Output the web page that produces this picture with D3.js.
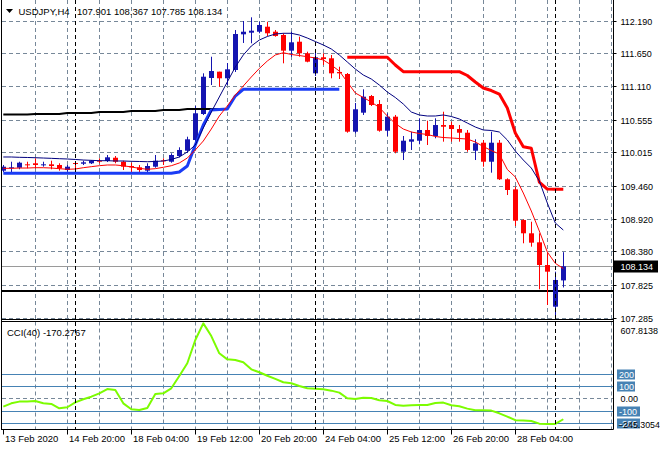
<!DOCTYPE html>
<html><head><meta charset="utf-8">
<script src="https://cdn.jsdelivr.net/npm/d3@7"></script>
<style>
html,body{margin:0;padding:0;background:#fff;}
svg{display:block;font-family:"Liberation Sans",Arial,sans-serif;}
</style></head><body>
<svg id="chart" width="660" height="450"></svg>
<script>
// ---------------- DATA ----------------
const symbolTitle = "USDJPY,H4";
const lastOHLC = ["107.901", "108.367", "107.785", "108.134"];
const opens = [109.713,109.752,109.762,109.818,109.835,109.807,109.818,109.807,109.724,109.840,
  109.828,109.835,109.878,109.873,109.927,109.861,109.790,109.769,109.713,109.779,
  109.884,109.861,109.955,110.043,110.220,110.649,111.244,111.348,111.239,111.376,
  111.965,111.992,112.008,112.091,112.008,111.954,111.695,111.843,111.652,111.321,
  111.586,111.569,111.343,111.310,110.357,110.671,110.946,110.814,110.373,110.605,
  110.026,110.192,110.208,110.385,110.286,110.467,110.467,110.401,110.340,110.043,
  110.175,109.861,110.175,109.571,109.405,108.898,108.679,108.530,108.155,107.467,
  107.901];
const highs = [109.807,109.861,109.861,109.861,109.917,109.861,109.878,109.835,109.807,109.861,
  109.878,109.889,109.917,109.972,109.955,109.878,109.845,109.807,109.835,109.972,
  109.917,110.000,110.099,110.274,110.781,111.321,111.595,111.348,111.491,112.036,
  112.185,112.246,112.173,112.173,112.036,111.982,112.008,111.926,111.678,111.706,
  111.652,111.624,111.430,111.326,110.831,111.057,110.963,110.880,110.661,110.633,
  110.286,110.357,110.578,110.538,110.578,110.687,110.522,110.467,110.385,110.231,
  110.220,110.357,110.220,109.587,109.448,108.910,108.870,108.679,108.349,108.045,
  108.367];
const lows = [109.691,109.680,109.736,109.752,109.752,109.779,109.736,109.713,109.696,109.696,
  109.807,109.823,109.835,109.856,109.835,109.724,109.658,109.680,109.670,109.762,
  109.807,109.845,109.934,110.010,110.192,110.633,111.128,111.100,111.128,111.343,
  111.822,111.817,111.982,111.937,111.926,111.486,111.595,111.595,111.503,111.277,
  111.458,111.239,111.227,110.340,110.330,110.633,110.781,110.357,110.286,110.000,
  109.889,110.055,110.149,110.137,110.248,110.192,110.192,110.192,110.026,109.889,
  109.779,109.680,109.559,109.311,108.799,108.514,108.458,107.754,107.495,107.330,
  107.785];
const closes = [109.779,109.769,109.845,109.807,109.807,109.818,109.790,109.752,109.779,109.828,
  109.851,109.878,109.868,109.934,109.861,109.779,109.769,109.724,109.790,109.878,
  109.873,109.972,110.055,110.231,110.661,111.265,111.359,111.239,111.387,111.970,
  112.008,112.025,112.119,111.982,111.937,111.695,111.833,111.652,111.513,111.586,
  111.557,111.321,111.321,110.357,110.727,110.935,110.798,110.373,110.605,110.026,
  110.208,110.231,110.385,110.286,110.467,110.439,110.401,110.340,110.055,110.165,
  109.861,110.175,109.571,109.394,108.887,108.679,108.524,108.155,108.045,107.908,
  108.134];
// navy moving average (upper)
const maNavy = [109.939,109.939,109.934,109.931,109.927,109.922,109.917,109.911,109.906,109.898,
  109.889,109.884,109.878,109.878,109.873,109.873,109.868,109.865,109.861,109.865,
  109.873,109.898,109.939,110.022,110.137,110.418,110.682,110.930,111.178,111.425,
  111.624,111.772,111.871,111.929,111.970,111.982,111.982,111.954,111.904,111.846,
  111.789,111.723,111.624,111.508,111.392,111.293,111.227,111.128,111.012,110.922,
  110.814,110.682,110.633,110.616,110.616,110.633,110.608,110.567,110.500,110.434,
  110.385,110.377,110.352,110.220,110.038,109.889,109.757,109.543,109.179,108.849,
  108.733];
// red moving average (lower)
const maRed = [109.752,109.752,109.757,109.757,109.762,109.762,109.757,109.746,109.736,109.741,
  109.762,109.779,109.795,109.807,109.807,109.795,109.774,109.752,109.736,109.746,
  109.769,109.795,109.840,109.922,110.055,110.203,110.401,110.616,110.781,110.963,
  111.112,111.260,111.401,111.524,111.624,111.661,111.632,111.615,111.595,111.574,
  111.541,111.458,111.359,111.178,110.996,110.922,110.847,110.756,110.616,110.492,
  110.401,110.352,110.327,110.311,110.278,110.261,110.253,110.244,110.236,110.187,
  110.112,110.046,109.988,109.733,109.609,109.344,109.047,108.717,108.370,108.183,
  108.097];
// thick blue stop line (bars 0..42)
const stopBlueStart = 0;
const stopBlue = [109.670,109.670,109.670,109.670,109.670,109.670,109.670,109.670,109.670,109.670,
  109.670,109.670,109.670,109.670,109.670,109.670,109.670,109.670,109.670,109.670,
  109.670,109.670,109.691,109.790,110.137,110.467,110.715,110.723,110.732,110.946,
  111.057,111.057,111.057,111.057,111.057,111.057,111.057,111.057,111.057,111.057,
  111.057,111.057,111.057];
// thick red stop line (bars 43..70)
const stopRedStart = 43;
const stopRed = [111.586,111.586,111.586,111.586,111.586,111.586,111.458,111.348,111.348,111.348,
  111.348,111.348,111.348,111.348,111.348,111.285,111.178,111.079,111.037,110.979,
  110.748,110.335,110.109,110.083,109.526,109.410,109.405,109.405];
// black slow average (bars 0..28)
const maBlackStart = 0;
const maBlack = [110.641,110.641,110.641,110.641,110.649,110.649,110.649,110.649,110.666,110.666,
  110.666,110.666,110.682,110.682,110.682,110.682,110.699,110.699,110.699,110.699,
  110.715,110.715,110.715,110.732,110.732,110.732,110.732,110.732,110.732];
const hLinePrice = 107.726;
const cci = [-68,-41,-27,-27,-22,-41,-46,-81,-73,-33,
  -8,13,40,75,67,-41,-89,-95,-79,35,
  40,81,181,284,473,607.8,505,365,316,311,
  292,235,211,183,157,130,122,100,81,78,
  73,62,46,0,-5,5,2,-16,-22,-54,
  -60,-57,-54,-54,-38,-35,-57,-65,-84,-97,
  -97,-100,-122,-149,-178,-181,-184,-206,-208,-208,
  -170.2767];
const cciTitle = "CCI(40) -170.2767";
const cciMax = 607.8138, cciMin = -245.3054;
const cciLevels = [200, 100, -100, -200];
const priceTicks = [112.190, 111.650, 111.110, 110.555, 110.015, 109.460, 108.920, 108.380, 107.825, 107.285];
const priceTickLabels = ["112.190","111.650","111.110","110.555","110.015","109.460","108.920","108.380","107.825","107.285"];
const timeTickBars = [0, 8, 16, 24, 32, 40, 48, 56, 64];
const timeTickLabels = ["13 Feb 2020","14 Feb 20:00","18 Feb 04:00","19 Feb 12:00","20 Feb 20:00","24 Feb 04:00","25 Feb 12:00","26 Feb 20:00","28 Feb 04:00"];
const separatorBars = [9, 39, 69];

// ---------------- LAYOUT ----------------
const L = 2, R = 613.5, mainTop = 0, mainBot = 319.5, cciTop = 321.5, cciBot = 429.5;
const svg = d3.select("#chart");
const x = d3.scaleLinear().domain([0, 70]).range([3.3, 563.3]);
const y = d3.scaleLinear().domain([107.285, 112.190]).range([317.7, 20.7]);
const yc = d3.scaleLinear().domain([cciMin, cciMax]).range([428.5, 323.4]);
const gridColor = "#778899";
const bullColor = "#1414b0", bearColor = "#ff0000";

svg.append("rect").attr("width", 660).attr("height", 450).attr("fill", "#fff");
const defs = svg.append("defs");
defs.append("clipPath").attr("id", "clipMain").append("rect")
  .attr("x", L).attr("y", mainTop).attr("width", R - L).attr("height", mainBot - mainTop);
defs.append("clipPath").attr("id", "clipCci").append("rect")
  .attr("x", L).attr("y", cciTop).attr("width", R - L).attr("height", cciBot - cciTop);

const gMain = svg.append("g").attr("clip-path", "url(#clipMain)");
const gCci = svg.append("g").attr("clip-path", "url(#clipCci)");

// vertical grid every 4 bars
const vGrid = d3.range(4, 77, 4);
[[gMain, mainTop, mainBot], [gCci, cciTop, cciBot]].forEach(([g, t, b]) => {
  g.selectAll(null).data(vGrid).enter().append("line")
    .attr("x1", d => Math.round(x(d)) + 0.5).attr("x2", d => Math.round(x(d)) + 0.5)
    .attr("y1", t).attr("y2", b)
    .attr("stroke", gridColor).attr("stroke-dasharray", "4,3");
});
// horizontal grid main
gMain.selectAll(null).data(priceTicks).enter().append("line")
  .attr("x1", L).attr("x2", R)
  .attr("y1", d => Math.round(y(d)) + 0.5).attr("y2", d => Math.round(y(d)) + 0.5)
  .attr("stroke", gridColor).attr("stroke-dasharray", "4,3");
// cci zero grid
gCci.append("line").attr("x1", L).attr("x2", R)
  .attr("y1", Math.round(yc(0)) + 0.5).attr("y2", Math.round(yc(0)) + 0.5)
  .attr("stroke", gridColor).attr("stroke-dasharray", "4,3");
// cci levels
gCci.selectAll(null).data(cciLevels).enter().append("line")
  .attr("x1", L).attr("x2", R)
  .attr("y1", d => Math.round(yc(d)) + 0.5).attr("y2", d => Math.round(yc(d)) + 0.5)
  .attr("stroke", "#4682b4").attr("stroke-width", 1);

// period separators
svg.selectAll(null).data(separatorBars).enter().append("line")
  .attr("x1", d => Math.round(x(d)) + 0.5).attr("x2", d => Math.round(x(d)) + 0.5)
  .attr("y1", mainTop).attr("y2", cciBot)
  .attr("stroke", "#000").attr("stroke-dasharray", "4,3");

// bid line
const lastClose = closes[closes.length - 1];
gMain.append("line").attr("x1", L).attr("x2", R)
  .attr("y1", Math.round(y(lastClose)) + 0.5).attr("y2", Math.round(y(lastClose)) + 0.5)
  .attr("stroke", "#9a9a9a");
// horizontal black line
gMain.append("line").attr("x1", 0).attr("x2", R)
  .attr("y1", y(hLinePrice)).attr("y2", y(hLinePrice))
  .attr("stroke", "#000").attr("stroke-width", 2);

// candles
const idx = d3.range(opens.length);
const cg = gMain.append("g");
cg.selectAll(null).data(idx).enter().append("line")
  .attr("x1", i => Math.round(x(i)) + 0.5).attr("x2", i => Math.round(x(i)) + 0.5)
  .attr("y1", i => y(highs[i])).attr("y2", i => y(lows[i]))
  .attr("stroke", i => closes[i] >= opens[i] ? bullColor : bearColor).attr("stroke-width", 1);
cg.selectAll(null).data(idx).enter().append("rect")
  .attr("x", i => Math.round(x(i)) - 2).attr("width", 5)
  .attr("y", i => y(Math.max(opens[i], closes[i])))
  .attr("height", i => Math.max(1, Math.abs(y(opens[i]) - y(closes[i]))))
  .attr("fill", i => closes[i] >= opens[i] ? bullColor : bearColor);

// indicator lines
function drawLine(g, arr, start, color, width, ys) {
  const ln = d3.line().x((d, i) => x(i + start)).y(d => ys(d));
  g.append("path").datum(arr).attr("d", ln).attr("fill", "none")
    .attr("stroke", color).attr("stroke-width", width).attr("stroke-linejoin", "round");
}
drawLine(gMain, maBlack, maBlackStart, "#000", 2, y);
drawLine(gMain, stopBlue, stopBlueStart, "#1a3cf5", 3, y);
drawLine(gMain, stopRed, stopRedStart, "#ff0000", 3, y);
drawLine(gMain, maNavy, 0, "#000080", 1, y);
drawLine(gMain, maRed, 0, "#ff0000", 1, y);
drawLine(gCci, cci, 0, "#7cfc00", 2, yc);

// frames
svg.append("line").attr("x1", 1.5).attr("x2", 1.5).attr("y1", 0).attr("y2", cciBot).attr("stroke", "#000");
svg.append("line").attr("x1", R).attr("x2", R).attr("y1", 0).attr("y2", cciBot).attr("stroke", "#000");
svg.append("line").attr("x1", 1).attr("x2", R).attr("y1", mainBot).attr("y2", mainBot).attr("stroke", "#000");
svg.append("line").attr("x1", 1).attr("x2", R).attr("y1", cciTop).attr("y2", cciTop).attr("stroke", "#000");
svg.append("line").attr("x1", 1).attr("x2", R).attr("y1", cciBot).attr("y2", cciBot).attr("stroke", "#000");

// right price axis
const axisG = svg.append("g").attr("font-size", 9).attr("fill", "#000");
priceTicks.forEach((p, k) => {
  const yy = Math.round(y(p)) + 0.5;
  axisG.append("line").attr("x1", R).attr("x2", R + 3).attr("y1", yy).attr("y2", yy).attr("stroke", "#000");
  axisG.append("text").attr("x", 620.5).attr("y", yy + 3.5).text(priceTickLabels[k]);
});
// current price box
{
  const yy = Math.round(y(lastClose)) + 0.5;
  svg.append("rect").attr("x", R + 0.5).attr("y", yy - 6).attr("width", 44).attr("height", 12).attr("fill", "#000");
  svg.append("text").attr("x", 620.5).attr("y", yy + 3.5).attr("font-size", 9).attr("fill", "#fff")
    .text(d3.format(".3f")(lastClose));
}
// cci axis
svg.append("text").attr("x", 620.5).attr("y", 333.5).attr("font-size", 9).text(d3.format(".4f")(cciMax));
svg.append("text").attr("x", 620.5).attr("y", Math.round(yc(0)) + 4).attr("font-size", 9).text("0.00");
cciLevels.forEach(v => {
  const yy = Math.round(yc(v)) + 0.5;
  const label = String(v);
  const w = label.length * 5 + 3;
  svg.append("rect").attr("x", 617).attr("y", yy - 5).attr("width", w).attr("height", 10).attr("fill", "#4682b4");
  svg.append("text").attr("x", 619).attr("y", yy + 3.5).attr("font-size", 9).attr("fill", "#fff").text(label);
});
svg.append("text").attr("x", 618).attr("y", 427.5).attr("font-size", 8.8).text(d3.format(".4f")(cciMin));

// time axis
timeTickBars.forEach((b, k) => {
  const xx = Math.round(x(b)) + 0.5;
  svg.append("line").attr("x1", xx).attr("x2", xx).attr("y1", cciBot).attr("y2", cciBot + 5).attr("stroke", "#000");
  svg.append("text").attr("x", xx + 1.5).attr("y", 441.5).attr("font-size", 9.5).text(timeTickLabels[k]);
});

// titles
svg.append("path").attr("d", "M6,9 L13,9 L9.5,13 Z").attr("fill", "#000");
svg.append("text").attr("x", 18.5).attr("y", 15).attr("font-size", 9.5).text(symbolTitle);
svg.append("text").attr("x", 77).attr("y", 15).attr("font-size", 9.5).text(lastOHLC.join(" "));
svg.append("text").attr("x", 7).attr("y", 336).attr("font-size", 9.5).text(cciTitle);
</script>
</body></html>
